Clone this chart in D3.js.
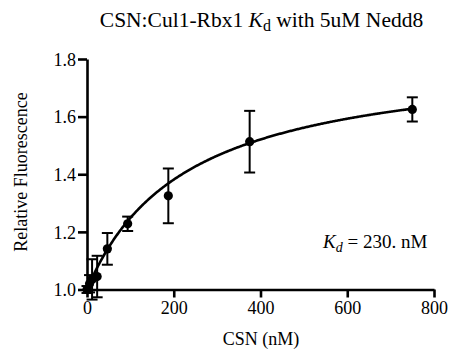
<!DOCTYPE html>
<html><head><meta charset="utf-8">
<script src="https://cdn.jsdelivr.net/npm/d3@7"></script>
<style>body{margin:0;background:#fff;}</style>
</head><body>
<svg id="c" width="454" height="358" font-family="Liberation Serif"></svg>
<script>
const concentrations = [0, 5.86, 11.7, 23.4, 46.9, 93.75, 187.5, 375, 750];
const fluorescence   = [1.00, 1.02, 1.035, 1.045, 1.141, 1.228, 1.325, 1.513, 1.625];
const errors         = [0.012, 0.03, 0.07, 0.072, 0.055, 0.025, 0.095, 0.107, 0.042];
const xTicks = [0, 200, 400, 600, 800];
const yTicks = [1.0, 1.2, 1.4, 1.6, 1.8];
const fitKd = 230, fitBmax = 0.82, fitBase = 1.0;

const FONT = "Liberation Serif";
const svg = d3.select("#c");
const x = d3.scaleLinear().domain([0, 800]).range([87, 434]);
const y = d3.scaleLinear().domain([1.0, 1.8]).range([289.5, 59]);

// axes
const xAxis = d3.axisBottom(x).tickValues(xTicks).tickFormat(d3.format("d")).tickSizeInner(8).tickSizeOuter(0).tickPadding(4);
const yAxis = d3.axisLeft(y).tickValues(yTicks).tickFormat(d3.format(".1f")).tickSizeInner(9).tickSizeOuter(0).tickPadding(2);
const gx = svg.append("g").attr("transform", `translate(0,${y(1.0)})`).call(xAxis);
const gy = svg.append("g").attr("transform", `translate(${x(0)},0)`).call(yAxis);
[gx, gy].forEach(g => {
  g.attr("font-family", FONT).attr("font-size", 18);
  g.select(".domain").attr("stroke", "#000").attr("stroke-width", 2.6);
  g.selectAll(".tick line").attr("stroke", "#000").attr("stroke-width", 2.6);
  g.selectAll(".tick text").attr("fill", "#000");
});
gy.selectAll(".tick text").attr("dy", "0.34em");

// fit curve
const curveX = d3.range(0, 751, 2);
const line = d3.line().x(d => x(d)).y(d => y(fitBase + fitBmax * d / (fitKd + d)));
svg.append("path").datum(curveX).attr("d", line).attr("fill", "none").attr("stroke", "#000").attr("stroke-width", 2.6);

// error bars
const data = concentrations.map((c, i) => ({c, v: fluorescence[i], e: errors[i]}));
const eb = svg.append("g").attr("stroke", "#000").attr("stroke-width", 2);
data.forEach(d => {
  const cx = x(d.c);
  eb.append("line").attr("x1", cx).attr("x2", cx).attr("y1", y(d.v - d.e)).attr("y2", y(d.v + d.e));
  [d.v - d.e, d.v + d.e].forEach(v => {
    eb.append("line").attr("x1", cx - 5.5).attr("x2", cx + 5.5).attr("y1", y(v)).attr("y2", y(v));
  });
});
svg.append("g").selectAll("circle").data(data).join("circle")
  .attr("cx", d => x(d.c)).attr("cy", d => y(d.v)).attr("r", 4.6).attr("fill", "#000");

// title
const t = svg.append("text").attr("x", 261.5).attr("y", 27).attr("text-anchor", "middle").attr("font-size", 21.5).attr("font-family", FONT);
t.append("tspan").text("CSN:Cul1-Rbx1 ");
t.append("tspan").attr("font-style", "italic").text("K");
t.append("tspan").attr("font-size", 16).attr("dy", 4).text("d");
t.append("tspan").attr("dy", -4).text(" with 5uM Nedd8");

// axis titles
svg.append("text").attr("x", 261).attr("y", 345).attr("text-anchor", "middle").attr("font-size", 18).attr("font-family", FONT).text("CSN (nM)");
svg.append("text").attr("transform", "translate(27,172) rotate(-90)").attr("text-anchor", "middle").attr("font-size", 18).attr("font-family", FONT).text("Relative Fluorescence");

// annotation
const a = svg.append("text").attr("x", 323).attr("y", 248).attr("font-size", 19).attr("font-family", FONT);
a.append("tspan").attr("font-style", "italic").text("K");
a.append("tspan").attr("font-style", "italic").attr("font-size", 14).attr("dy", 4).text("d");
a.append("tspan").attr("dy", -4).text(" = 230. nM");
</script>
</body></html>
